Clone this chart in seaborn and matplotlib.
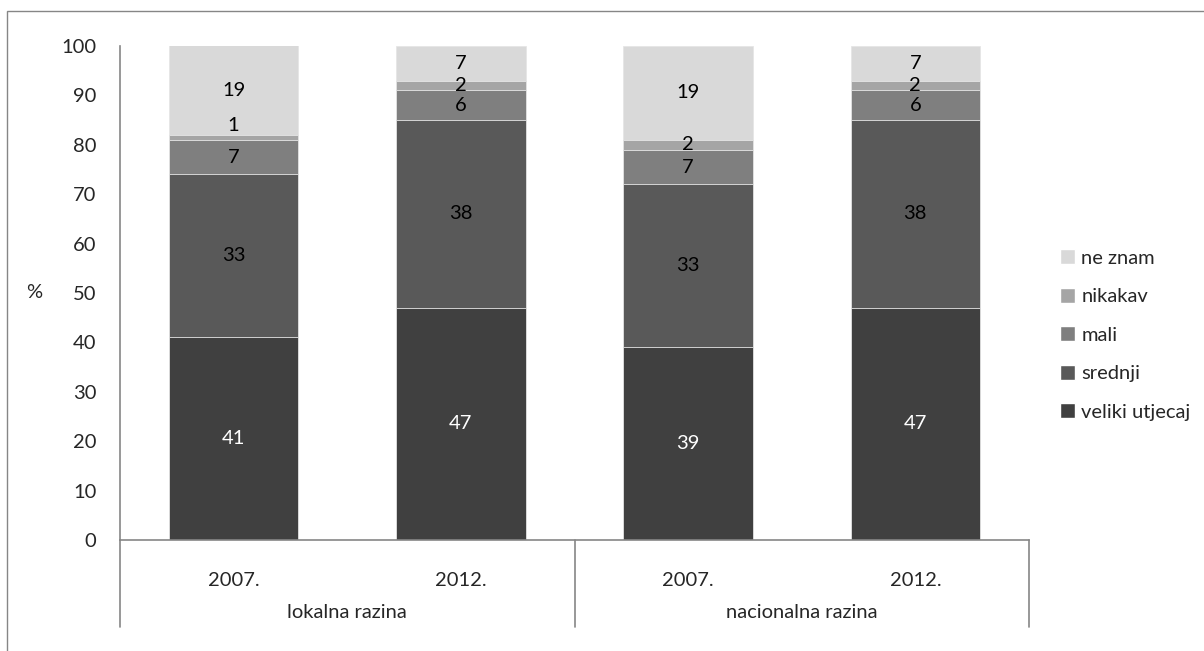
import numpy as np
import pandas as pd
import matplotlib
matplotlib.use('Agg')
import matplotlib.pyplot as plt
import seaborn as sns
from matplotlib.patches import Patch, Rectangle
from matplotlib.lines import Line2D

# data
groups = ['lokalna razina', 'nacionalna razina']
years = ['2007.', '2012.', '2007.', '2012.']
bar_keys = ['lok 2007', 'lok 2012', 'nac 2007', 'nac 2012']
series = ['veliki utjecaj', 'srednji', 'mali', 'nikakav', 'ne znam']
veliki = [41, 47, 39, 47]
srednji = [33, 38, 33, 38]
mali = [7, 6, 7, 6]
nikakav = [1, 2, 2, 2]
ne_znam = [19, 7, 19, 7]
colors = ['#404040', '#595959', '#7f7f7f', '#a5a5a5', '#d9d9d9']
text_colors = ['white', 'black', 'black', 'black', 'black']

sns.set_style('white')
plt.rcParams['font.family'] = ['Lato', 'DejaVu Sans']

values = np.array([veliki, srednji, mali, nikakav, ne_znam])
cum = values.cumsum(axis=0)

df = pd.DataFrame({'bar': np.tile(bar_keys, len(series)),
                   'series': np.repeat(series, len(bar_keys)),
                   'top': cum.ravel()})

fig = plt.figure(figsize=(12.04, 6.51), dpi=100)
ax = fig.add_axes([120 / 1204, 111 / 651, 909 / 1204, 494 / 651])

# stacked bars: draw cumulative totals from the top series down
for i in range(len(series) - 1, -1, -1):
    sub = df[df['series'] == series[i]]
    sns.barplot(data=sub, x='bar', y='top', order=bar_keys, color=colors[i],
                width=0.57, edgecolor='#e6e6e6', linewidth=0.6, saturation=1,
                ax=ax, zorder=2)

ax.set_ylim(0, 100)
ax.set_xlim(-0.5, 3.5)
ax.set_yticks(range(0, 101, 10))
ax.tick_params(axis='y', length=0, pad=17, labelsize=14.5)
ax.set_xticks([])
ax.set_xlabel('')
ax.set_ylabel('')
for s in ['top', 'right']:
    ax.spines[s].set_visible(False)
for s in ['left', 'bottom']:
    ax.spines[s].set_color('#868686')
    ax.spines[s].set_linewidth(1.2)

# value labels (tiny segments are nudged up like in the original)
for j in range(len(bar_keys)):
    for i in range(len(series)):
        lo = cum[i, j] - values[i, j]
        hi = min(cum[i, j], 100)
        y = (lo + hi) / 2
        if values[i, j] == 1:
            y += 2.5
        ax.text(j, y, str(values[i, j]), ha='center', va='center',
                fontsize=14.5, color=text_colors[i], zorder=3)

ax.text(-86 / 909, 0.5, '%', transform=ax.transAxes, ha='center', va='center',
        fontsize=14.5)

# multi-level category axis
trans = ax.get_xaxis_transform()
for j, y in enumerate(years):
    ax.text(j, -40 / 494, y, transform=trans, ha='center', va='center', fontsize=14.5)
for g, name in enumerate(groups):
    ax.text(g * 2 + 0.5, -73 / 494, name, transform=trans, ha='center',
            va='center', fontsize=14.5)
for xv in [-0.5, 1.5, 3.5]:
    ax.add_line(Line2D([xv, xv], [0, -87 / 494], transform=trans, color='#868686',
                       linewidth=1.2, clip_on=False))

# legend
handles = [Patch(facecolor=colors[i], label=series[i]) for i in range(len(series) - 1, -1, -1)]
fig.legend(handles=handles, loc='center left', bbox_to_anchor=(1050 / 1204, 1 - 335 / 651),
           frameon=False, fontsize=14.5, handlelength=0.75, handleheight=0.75,
           handletextpad=0.3, labelspacing=1.05, borderpad=0)

# chart border
fig.add_artist(Rectangle((7 / 1204, -0.01), 1.2, 1 - 11 / 651 + 0.01,
                         transform=fig.transFigure, fill=False,
                         edgecolor='#868686', linewidth=1))

fig.savefig('out.png', dpi=100)
